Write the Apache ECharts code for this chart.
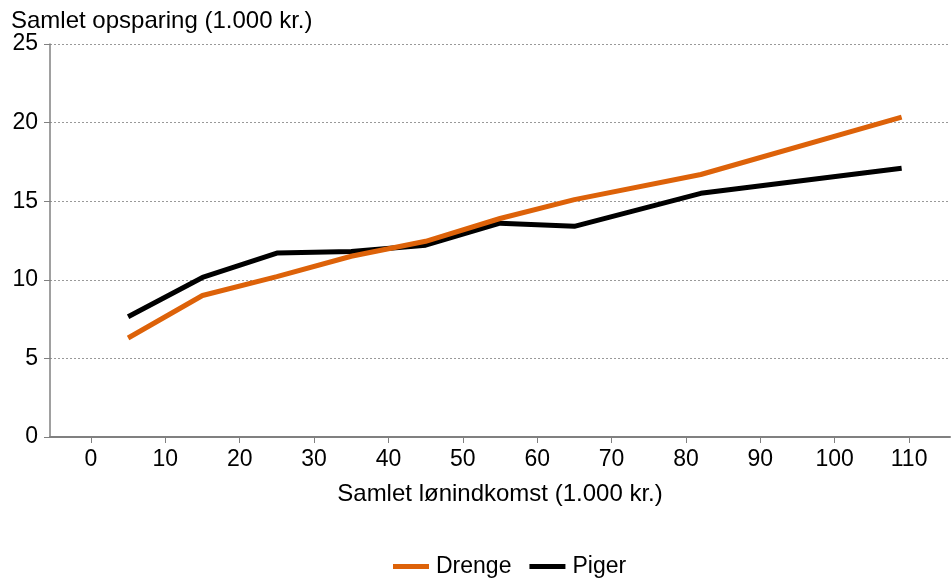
<!DOCTYPE html>
<html>
<head>
<meta charset="utf-8">
<script src="https://cdn.jsdelivr.net/npm/echarts@6/dist/echarts.min.js"></script>
<style>html,body{margin:0;padding:0;background:#fff}#c{width:951px;height:578px}</style>
</head>
<body>
<div id="c"></div>
<script>
const income = [5, 15, 25, 35, 45, 55, 65, 82, 109];
const drenge = [6.3, 9.0, 10.2, 11.5, 12.45, 13.9, 15.1, 16.7, 20.35];
const piger = [7.65, 10.15, 11.7, 11.8, 12.2, 13.6, 13.4, 15.5, 17.1];
const xTicks = [0, 10, 20, 30, 40, 50, 60, 70, 80, 90, 100, 110];

const font = 'Liberation Sans, Arial, sans-serif';
const chart = echarts.init(document.getElementById('c'), null, {renderer: 'canvas'});
chart.setOption({
  animation: false,
  title: {
    text: 'Samlet opsparing (1.000 kr.)',
    left: 6, top: 4,
    textStyle: {fontFamily: font, fontSize: 24, fontWeight: 'normal', color: '#000'}
  },
  legend: {
    top: 550, left: 388,
    itemWidth: 36, itemHeight: 5, itemGap: 18,
    icon: 'rect',
    textStyle: {fontFamily: font, fontSize: 23, color: '#000', padding: [0, 0, 0, 2]},
    data: ['Drenge', 'Piger']
  },
  grid: {left: 50, right: 1, top: 44, bottom: 141, containLabel: false},
  xAxis: {
    type: 'value', min: -5.5, max: 115.5,
    name: 'Samlet lønindkomst (1.000 kr.)',
    nameLocation: 'middle', nameGap: 45,
    nameTextStyle: {fontFamily: font, fontSize: 24, color: '#000'},
    axisLine: {show: true, lineStyle: {color: '#808080', width: 2}},
    axisTick: {show: true, customValues: xTicks, length: 6, lineStyle: {color: '#808080'}},
    axisLabel: {customValues: xTicks, fontFamily: font, fontSize: 23, color: '#000', margin: 11},
    splitLine: {show: false}
  },
  yAxis: {
    type: 'value', min: 0, max: 25, interval: 5,
    axisLine: {show: true, onZero: false, lineStyle: {color: '#808080', width: 1.5}},
    axisTick: {show: true, length: 6, lineStyle: {color: '#808080'}},
    axisLabel: {fontFamily: font, fontSize: 23, color: '#000', margin: 12},
    splitLine: {show: true, lineStyle: {color: '#999', type: [2, 2], width: 1}}
  },
  series: [
    {
      name: 'Drenge', type: 'line', showSymbol: false, symbol: 'none',
      data: income.map((x, i) => [x, drenge[i]]),
      lineStyle: {color: '#DD6209', width: 5}, itemStyle: {color: '#DD6209'}, z: 3
    },
    {
      name: 'Piger', type: 'line', showSymbol: false, symbol: 'none',
      data: income.map((x, i) => [x, piger[i]]),
      lineStyle: {color: '#000', width: 5}, itemStyle: {color: '#000'}, z: 2
    }
  ]
});
</script>
</body>
</html>
